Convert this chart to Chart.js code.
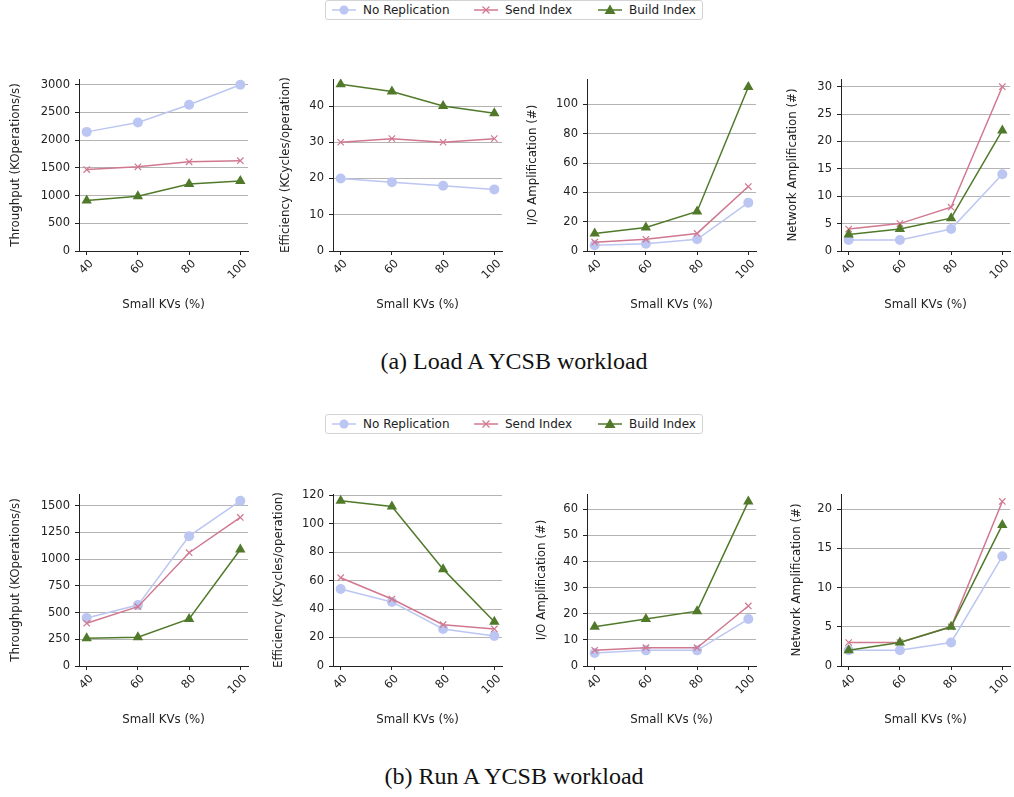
<!DOCTYPE html>
<html>
<head>
<meta charset="utf-8">
<script src="https://cdn.jsdelivr.net/npm/chart.js@4.4.1/dist/chart.umd.min.js"></script>
<style>
  body { margin: 0; background: #fff; width: 1014px; height: 797px; overflow: hidden; position: relative; font-family: "DejaVu Sans", sans-serif; }
  canvas { position: absolute; }
  .legend { position: absolute; left: 325px; width: 378px; height: 20px; border: 1px solid #d3d3d3; border-radius: 3px; box-sizing: border-box; font-size: 12px; color: #222; }
  .legend .item { position: absolute; top: 0; height: 18px; display: flex; align-items: center; }
  .legend .item span { margin-left: 7px; }
  .caption { position: absolute; left: 214px; width: 600px; text-align: center; font-family: "Liberation Serif", serif; font-size: 24px; line-height: 1; color: #111; }
</style>
</head>
<body>
<div class="legend" id="legendA" style="top:0px"></div>
<div class="caption" style="top:349px">(a) Load A YCSB workload</div>
<div class="legend" id="legendB" style="top:414px"></div>
<div class="caption" style="top:764px">(b) Run A YCSB workload</div>

<script>
  // ========== DATA ==========
  const smallKVs = [40, 60, 80, 100];
  const seriesNames = ['No Replication', 'Send Index', 'Build Index'];

  // Load A
  const loadThrNoRep = [2150, 2320, 2640, 3000];
  const loadThrSend = [1470, 1520, 1610, 1630];
  const loadThrBuild = [910, 990, 1210, 1265];
  const loadThrTicks = [0, 500, 1000, 1500, 2000, 2500, 3000];

  const loadEffNoRep = [20, 19, 18, 17];
  const loadEffSend = [30, 31, 30, 31];
  const loadEffBuild = [46, 44, 40, 38];
  const loadEffTicks = [0, 10, 20, 30, 40];

  const loadIoNoRep = [4, 5, 8, 33];
  const loadIoSend = [6, 8, 12, 44];
  const loadIoBuild = [12, 16, 27, 112];
  const loadIoTicks = [0, 20, 40, 60, 80, 100];

  const loadNetNoRep = [2, 2, 4, 14];
  const loadNetSend = [4, 5, 8, 30];
  const loadNetBuild = [3, 4, 6, 22];
  const loadNetTicks = [0, 5, 10, 15, 20, 25, 30];

  // Run A
  const runThrNoRep = [450, 570, 1215, 1545];
  const runThrSend = [400, 555, 1060, 1390];
  const runThrBuild = [260, 270, 440, 1090];
  const runThrTicks = [0, 250, 500, 750, 1000, 1250, 1500];

  const runEffNoRep = [54, 45, 26, 21];
  const runEffSend = [62, 47, 29, 26];
  const runEffBuild = [116, 112, 68, 31];
  const runEffTicks = [0, 20, 40, 60, 80, 100, 120];

  const runIoNoRep = [5, 6, 6, 18];
  const runIoSend = [6, 7, 7, 23];
  const runIoBuild = [15, 18, 21, 63];
  const runIoTicks = [0, 10, 20, 30, 40, 50, 60];

  const runNetNoRep = [2, 2, 3, 14];
  const runNetSend = [3, 3, 5, 21];
  const runNetBuild = [2, 3, 5, 18];
  const runNetTicks = [0, 5, 10, 15, 20];

  // ========== STYLE ==========
  const colors = ['#bcc6f2', '#d07890', '#507a2a'];
  const pointStyles = ['circle', 'crossRot', 'triangle'];
  const pointRadii = [5, 4.5, 6];
  const drawOrder = [2, 1, 0];
  const textColor = '#222';

  Chart.defaults.font.family = '"DejaVu Sans", sans-serif';

  const panels = [
    { top: 60, col: 0, yLabel: 'Throughput (KOperations/s)', series: [loadThrNoRep, loadThrSend, loadThrBuild], ticks: loadThrTicks, titleX: 16 },
    { top: 60, col: 1, yLabel: 'Efficiency (KCycles/operation)', series: [loadEffNoRep, loadEffSend, loadEffBuild], ticks: loadEffTicks, titleX: 32 },
    { top: 60, col: 2, yLabel: 'I/O Amplification (#)', series: [loadIoNoRep, loadIoSend, loadIoBuild], ticks: loadIoTicks, titleX: 25 },
    { top: 60, col: 3, yLabel: 'Network Amplification (#)', series: [loadNetNoRep, loadNetSend, loadNetBuild], ticks: loadNetTicks, titleX: 31 },
    { top: 475, col: 0, yLabel: 'Throughput (KOperations/s)', series: [runThrNoRep, runThrSend, runThrBuild], ticks: runThrTicks, titleX: 16 },
    { top: 475, col: 1, yLabel: 'Efficiency (KCycles/operation)', series: [runEffNoRep, runEffSend, runEffBuild], ticks: runEffTicks, titleX: 25 },
    { top: 475, col: 2, yLabel: 'I/O Amplification (#)', series: [runIoNoRep, runIoSend, runIoBuild], ticks: runIoTicks, titleX: 34 },
    { top: 475, col: 3, yLabel: 'Network Amplification (#)', series: [runNetNoRep, runNetSend, runNetBuild], ticks: runNetTicks, titleX: 35 }
  ];

  // legend marker drawn as a small svg
  function markerSvg(i) {
    const c = colors[i];
    let mark = '';
    if (i === 0) mark = `<circle cx="12" cy="6" r="4.5" fill="${c}"/>`;
    else if (i === 1) mark = `<path d="M8.5 2.5 L15.5 9.5 M15.5 2.5 L8.5 9.5" stroke="${c}" stroke-width="1.2"/>`;
    else mark = `<path d="M12 0.5 L17.5 10 L6.5 10 Z" fill="${c}"/>`;
    return `<svg width="24" height="12"><line x1="0" y1="6" x2="24" y2="6" stroke="${c}" stroke-width="1.5"/>${mark}</svg>`;
  }

  function buildLegend(id) {
    const box = document.getElementById(id);
    const lefts = [6, 148, 272];
    let html = '';
    seriesNames.forEach((name, i) => {
      html += `<div class="item" style="left:${lefts[i]}px">${markerSvg(i)}<span>${name}</span></div>`;
    });
    box.innerHTML = html;
  }

  function yMaxFor(series) {
    const all = series.flat();
    const hi = Math.max(...all), lo = Math.min(...all);
    return hi + 0.05 * (hi - lo);
  }

  function makePanel(p) {
    const canvas = document.createElement('canvas');
    canvas.width = 254;
    canvas.height = 260;
    canvas.style.left = (p.col * 254) + 'px';
    canvas.style.top = p.top + 'px';
    document.body.appendChild(canvas);

    const datasets = p.series.map((vals, i) => ({
      label: seriesNames[i],
      data: smallKVs.map((k, j) => ({ x: k, y: vals[j] })),
      borderColor: colors[i],
      backgroundColor: colors[i],
      borderWidth: 1.5,
      pointStyle: pointStyles[i],
      pointRadius: pointRadii[i],
      pointBorderWidth: i === 1 ? 1.2 : 0,
      order: drawOrder[i]
    }));

    new Chart(canvas.getContext('2d'), {
      type: 'line',
      data: { datasets },
      options: {
        responsive: false,
        animation: false,
        layout: { padding: { top: 19, right: 6, left: 0, bottom: 0 } },
        plugins: { legend: { display: false }, tooltip: { enabled: false } },
        scales: {
          x: {
            type: 'linear', min: 37, max: 103,
            afterBuildTicks: s => { s.ticks = smallKVs.map(v => ({ value: v })); },
            afterFit: s => { s.height = 69; },
            ticks: { minRotation: 45, maxRotation: 45, font: { size: 11.5 }, color: textColor, padding: 2, labelOffset: 5, callback: v => String(v) },
            grid: { drawOnChartArea: false, drawTicks: true, tickLength: 4, tickColor: textColor },
            border: { color: textColor, width: 1 },
            title: { display: true, text: 'Small KVs (%)', font: { size: 11.8, lineHeight: 1.2 }, color: textColor, padding: { top: 0, bottom: 8 } }
          },
          y: {
            min: 0, max: yMaxFor(p.series),
            afterBuildTicks: s => { s.ticks = p.ticks.map(v => ({ value: v })); },
            afterFit: s => { s.width = 79; },
            ticks: { font: { size: 11.5 }, color: textColor, padding: 5, callback: v => String(v) },
            grid: { color: '#b4b4b4', lineWidth: 1, tickLength: 4, tickColor: textColor },
            border: { color: textColor, width: 1 },
            title: { display: true, text: p.yLabel, font: { size: 11.8, lineHeight: 1.2 }, color: textColor, padding: { top: p.titleX - 7.08, bottom: 0 } }
          }
        }
      }
    });
  }

  buildLegend('legendA');
  buildLegend('legendB');
  panels.forEach(makePanel);
</script>
</body>
</html>
